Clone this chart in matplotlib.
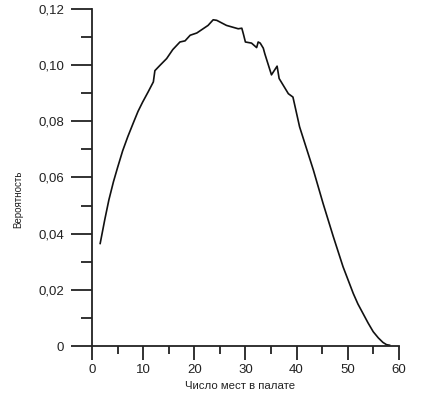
import matplotlib.pyplot as plt
from matplotlib.ticker import FixedLocator, MultipleLocator, FuncFormatter

plt.rcParams['font.family'] = ['Liberation Sans', 'DejaVu Sans']

# число мест в палате и вероятность
beds = [1.6, 2.5, 3.3, 4.2, 5.0, 6.0, 7.0, 8.1, 9.0, 9.9, 11.0, 12.0, 12.3,
        13.3, 14.6, 15.8, 17.2, 18.2, 19.2, 20.5, 22.7, 23.7, 24.4, 26.3,
        28.6, 29.3, 29.6, 30.0, 31.2, 32.2, 32.5, 32.9, 33.5, 33.8, 35.1,
        36.2, 36.6, 38.4, 39.3, 40.6, 43.3, 45.2, 47.2, 49.1, 51.1, 52.0,
        53.0, 54.0, 55.0, 56.0, 56.9, 57.6, 58.2]
prob = [0.0365, 0.045, 0.052, 0.0585, 0.0635, 0.0695, 0.0745, 0.0795, 0.0835,
        0.0868, 0.0905, 0.0940, 0.098, 0.0999, 0.1023, 0.1055, 0.1082, 0.1086,
        0.1106, 0.1114, 0.1141, 0.1161, 0.1159, 0.1141, 0.1129, 0.1131,
        0.1111, 0.1082, 0.1078, 0.1062, 0.1082, 0.1078, 0.106, 0.104, 0.0965,
        0.0996, 0.0952, 0.0898, 0.0886, 0.078, 0.0626, 0.0507, 0.0389, 0.0282,
        0.0187, 0.0150, 0.0116, 0.0082, 0.0051, 0.0029, 0.0013, 0.0005, 0.0003]

y_ticks = [0, 0.02, 0.04, 0.06, 0.08, 0.10, 0.12]
x_ticks = [0, 10, 20, 30, 40, 50, 60]


def comma_fmt(v, pos):
    if abs(v) < 1e-9:
        return '0'
    return f'{v:.2f}'.replace('.', ',')


fig = plt.figure(figsize=(4.22, 4.01), dpi=100)
ax = fig.add_axes([0.218, 0.137, 0.727, 0.841])

ax.plot(beds, prob, color='#111111', lw=1.2, solid_joinstyle='round')

ax.set_xlim(0, 60)
ax.set_ylim(0, 0.12)
ax.xaxis.set_major_locator(FixedLocator(x_ticks))
ax.xaxis.set_minor_locator(MultipleLocator(5))
ax.yaxis.set_major_locator(FixedLocator(y_ticks))
ax.yaxis.set_minor_locator(MultipleLocator(0.01))
ax.yaxis.set_major_formatter(FuncFormatter(comma_fmt))

for side in ['top', 'right']:
    ax.spines[side].set_visible(False)
for side in ['left', 'bottom']:
    ax.spines[side].set_linewidth(1.3)
    ax.spines[side].set_color('#222222')

ax.tick_params(axis='y', which='major', direction='out', length=15, width=1.3,
               pad=5, labelsize=9.5, colors='#222222')
ax.tick_params(axis='y', which='minor', direction='out', length=8, width=1.3,
               colors='#222222')
ax.tick_params(axis='x', which='major', direction='out', length=10, width=1.3,
               pad=3, labelsize=9.5, colors='#222222')
ax.tick_params(axis='x', which='minor', direction='out', length=6, width=1.3,
               colors='#222222')

ax.set_xlabel('Число мест в палате', fontsize=8.2, color='#222222')
ax.xaxis.set_label_coords(0.484, -0.104)
ax.set_ylabel('Вероятность', fontsize=7, color='#222222')
ax.yaxis.set_label_coords(-0.225, 0.435)

fig.savefig('out.png', dpi=100)
